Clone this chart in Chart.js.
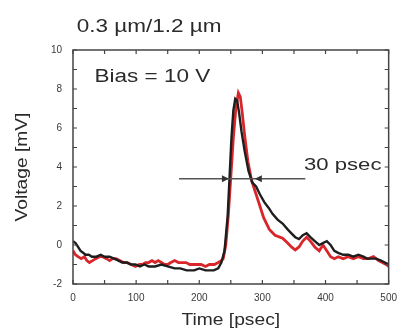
<!DOCTYPE html>
<html>
<head>
<meta charset="utf-8">
<script src="https://cdn.jsdelivr.net/npm/chart.js@4"></script>
<style>
  html, body { margin: 0; padding: 0; background: #fff; }
  #wrap { width: 405px; height: 334px; }
</style>
</head>
<body>
<div id="wrap"><canvas id="pulseChart"></canvas></div>
<script>
// Black trace (time in psec, voltage in mV)
const blackTime = [0, 4, 8, 12, 16, 20, 25, 30, 37, 44, 50, 58, 65, 72, 78, 85, 92, 99, 106, 113, 120, 130, 140, 150, 161, 170, 180, 192, 200, 210, 223, 230, 235, 240, 245, 248, 251, 254, 257, 260, 263, 267, 272, 278, 284, 290, 296, 303, 310, 316, 324, 332, 340, 346, 352, 358, 364, 370, 376, 383, 390, 396, 402, 408, 414, 420, 428, 436, 444, 452, 460, 466, 472, 480, 488, 494, 500];
const blackVolt = [0.2, 0.1, -0.1, -0.3, -0.4, -0.5, -0.5, -0.6, -0.6, -0.5, -0.6, -0.6, -0.7, -0.8, -0.9, -0.9, -1.0, -1.0, -1.1, -1.0, -1.1, -1.1, -1.0, -1.1, -1.2, -1.2, -1.3, -1.3, -1.2, -1.3, -1.3, -1.2, -0.9, -0.3, 1.5, 3.5, 5.5, 6.9, 7.5, 7.4, 6.8, 5.8, 4.8, 3.8, 3.2, 3.0, 2.6, 2.2, 1.9, 1.6, 1.3, 1.1, 0.8, 0.6, 0.4, 0.3, 0.5, 0.6, 0.4, 0.2, 0.0, 0.1, 0.2, 0.0, -0.3, -0.4, -0.5, -0.5, -0.6, -0.5, -0.6, -0.7, -0.7, -0.7, -0.8, -0.9, -1.0];

// Red trace
const redTime = [0, 4, 8, 13, 18, 22, 26, 31, 36, 42, 47, 53, 58, 63, 68, 74, 80, 86, 92, 99, 105, 110, 115, 120, 125, 130, 135, 140, 145, 150, 155, 161, 167, 173, 179, 185, 191, 197, 203, 210, 216, 224, 230, 235, 238, 242, 246, 250, 254, 258, 262, 265, 268, 272, 277, 283, 290, 295, 302, 311, 320, 332, 340, 346, 352, 358, 364, 370, 376, 383, 390, 396, 402, 408, 414, 420, 428, 436, 444, 452, 460, 468, 476, 484, 490, 496, 500];
const redVolt = [-0.3, -0.5, -0.6, -0.7, -0.6, -0.8, -0.9, -0.8, -0.7, -0.6, -0.6, -0.7, -0.8, -0.7, -0.7, -0.8, -0.9, -0.9, -1.0, -1.1, -1.0, -1.0, -0.9, -0.9, -0.8, -0.9, -0.8, -0.9, -1.0, -1.0, -0.9, -0.8, -0.9, -0.9, -0.9, -1.0, -1.0, -1.0, -1.0, -1.1, -1.0, -1.0, -0.9, -0.8, -0.7, 0.0, 1.5, 3.5, 5.5, 7.0, 7.8, 7.6, 6.8, 5.6, 4.3, 3.3, 2.6, 2.1, 1.4, 0.8, 0.5, 0.35, 0.1, -0.1, -0.25, -0.1, 0.2, 0.4, 0.2, -0.1, -0.3, 0.0, -0.3, -0.6, -0.7, -0.6, -0.7, -0.6, -0.7, -0.6, -0.7, -0.7, -0.6, -0.8, -0.9, -1.0, -1.1];

// Axis ranges and labels
const xRange = [0, 500];
const yRange = [-2, 10];
const titleText = "0.3 \u00b5m/1.2 \u00b5m";
const biasText = "Bias = 10 V";
const widthText = "30 psec";
const xTitle = "Time [psec]";
const yTitle = "Voltage [mV]";

// FWHM marker: level, line extent, arrow tips (data units)
const fwhmLevel = 3.4;
const fwhmLine = [168, 368];
const fwhmTips = [247, 288];

const toXY = (ts, vs) => ts.map((t, i) => ({ x: t, y: vs[i] }));

function stretchText(ctx, text, x, y, size, sx, align, rot) {
  ctx.save();
  ctx.translate(x, y);
  if (rot) ctx.rotate(rot);
  ctx.scale(sx, 1);
  ctx.font = size + "px 'Liberation Sans', Arial, sans-serif";
  ctx.textAlign = align;
  ctx.textBaseline = "middle";
  ctx.fillStyle = "#2b2b2b";
  ctx.fillText(text, 0, 0);
  ctx.restore();
}

const decor = {
  id: "decor",
  afterDraw(chart) {
    const { ctx, chartArea: a, scales: { x, y } } = chart;
    ctx.save();
    // frame
    ctx.strokeStyle = "#444";
    ctx.lineWidth = 1.5;
    ctx.strokeRect(a.left, a.top, a.right - a.left, a.bottom - a.top);
    // inward ticks on all four sides
    ctx.lineWidth = 1.2;
    ctx.beginPath();
    x.ticks.forEach(t => {
      const px = x.getPixelForValue(t.value);
      ctx.moveTo(px, a.bottom); ctx.lineTo(px, a.bottom - 4);
      ctx.moveTo(px, a.top); ctx.lineTo(px, a.top + 4);
    });
    y.ticks.forEach(t => {
      const py = y.getPixelForValue(t.value);
      ctx.moveTo(a.left, py); ctx.lineTo(a.left + 4, py);
      ctx.moveTo(a.right, py); ctx.lineTo(a.right - 4, py);
    });
    ctx.stroke();

    // FWHM line with arrowheads
    const ly = y.getPixelForValue(fwhmLevel);
    ctx.strokeStyle = "#555";
    ctx.lineWidth = 1.5;
    ctx.beginPath();
    ctx.moveTo(x.getPixelForValue(fwhmLine[0]), ly);
    ctx.lineTo(x.getPixelForValue(fwhmLine[1]), ly);
    ctx.stroke();
    ctx.fillStyle = "#333";
    const t1 = x.getPixelForValue(fwhmTips[0]);
    const t2 = x.getPixelForValue(fwhmTips[1]);
    ctx.beginPath();
    ctx.moveTo(t1, ly); ctx.lineTo(t1 - 7, ly - 3.5); ctx.lineTo(t1 - 7, ly + 3.5); ctx.closePath();
    ctx.moveTo(t2, ly); ctx.lineTo(t2 + 7, ly - 3.5); ctx.lineTo(t2 + 7, ly + 3.5); ctx.closePath();
    ctx.fill();
    ctx.restore();

    // texts
    stretchText(ctx, titleText, x.getPixelForValue(6), 27, 18, 1.25, "left");
    stretchText(ctx, biasText, x.getPixelForValue(34), y.getPixelForValue(8.6), 18, 1.25, "left");
    stretchText(ctx, widthText, x.getPixelForValue(366), y.getPixelForValue(4.1), 17, 1.3, "left");
    stretchText(ctx, xTitle, (a.left + a.right) / 2, 321, 16, 1.2, "center");
    stretchText(ctx, yTitle, 23, (a.top + a.bottom) / 2, 16, 1.2, "center", -Math.PI / 2);
  }
};

new Chart(document.getElementById("pulseChart"), {
  type: "line",
  data: {
    datasets: [
      {
        label: "black",
        data: toXY(blackTime, blackVolt),
        borderColor: "#1e1e1e",
        borderWidth: 2.4,
        pointRadius: 0,
        tension: 0,
      },
      {
        label: "red",
        data: toXY(redTime, redVolt),
        borderColor: "#d8262a",
        borderWidth: 2.8,
        pointRadius: 0,
        tension: 0,
      },
    ],
  },
  options: {
    responsive: true,
    maintainAspectRatio: false,
    animation: false,
    layout: { padding: { left: 0, top: 50, right: 10, bottom: 0 } },
    plugins: {
      legend: { display: false },
      tooltip: { enabled: false },
    },
    scales: {
      x: {
        type: "linear",
        min: xRange[0],
        max: xRange[1],
        grid: { display: true, drawOnChartArea: false, drawTicks: false },
        border: { display: false },
        ticks: {
          stepSize: 50,
          maxRotation: 0,
          autoSkip: false,
          padding: 8,
          color: "#3a3a3a",
          font: { size: 10, family: "'Liberation Sans', Arial, sans-serif" },
          callback: v => (v % 100 === 0 ? v : ""),
        },
        afterFit: s => { s.height = 50; },
      },
      y: {
        min: yRange[0],
        max: yRange[1],
        grid: { display: true, drawOnChartArea: false, drawTicks: false },
        border: { display: false },
        ticks: {
          stepSize: 1,
          autoSkip: false,
          padding: 11,
          color: "#3a3a3a",
          font: { size: 10, family: "'Liberation Sans', Arial, sans-serif" },
          callback: v => (v % 2 === 0 ? v : ""),
        },
        afterFit: s => { s.width = 73; },
      },
    },
  },
  plugins: [decor],
});
</script>
</body>
</html>
